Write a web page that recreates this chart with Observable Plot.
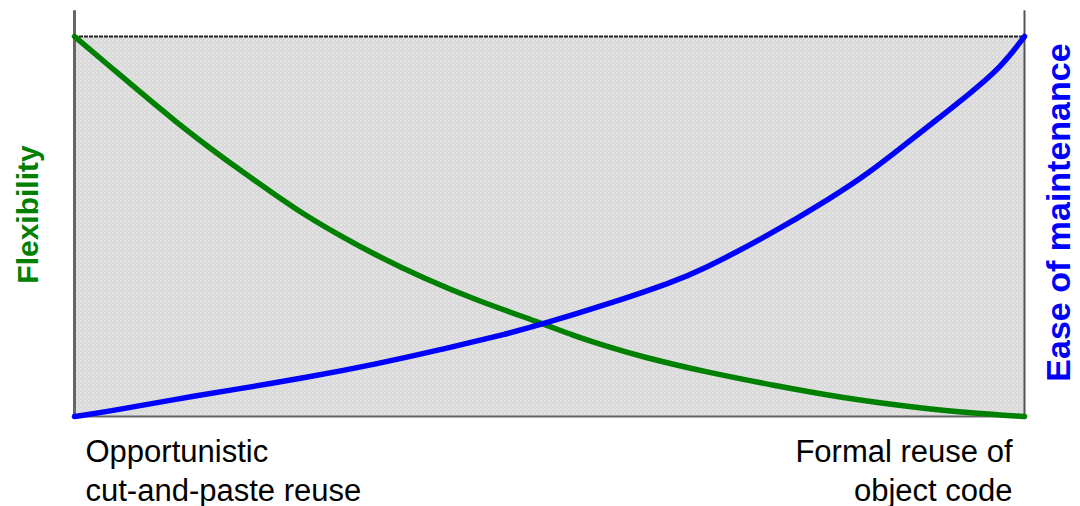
<!DOCTYPE html>
<html>
<head>
<meta charset="utf-8">
<script src="https://cdn.jsdelivr.net/npm/d3@7"></script>
<script src="https://cdn.jsdelivr.net/npm/@observablehq/plot@0.6"></script>
<style>
  html, body { margin: 0; padding: 0; background: #ffffff; }
</style>
</head>
<body>
<div id="chart"></div>
<script>
// Position along the reuse spectrum (0 = opportunistic, 100 = formal), relative level (0..100)
const flexX = [0, 3.5, 7.1, 10.5, 14.0, 17.6, 21.1, 24.5, 28.1, 31.6, 36.8, 42.1, 49.2, 52.5, 56.1, 59.6, 66.6, 73.6, 80.6, 87.7, 94.6, 100];
const flexY = [100, 92.6, 85.0, 77.9, 71.1, 64.5, 58.4, 52.6, 47.4, 42.6, 36.3, 30.8, 24.5, 21.3, 18.4, 15.8, 11.6, 8.2, 5.0, 2.6, 0.8, 0];
const easeX = [0, 3.5, 10.5, 17.6, 24.5, 31.6, 38.6, 45.6, 49.1, 56.1, 63.1, 65.9, 72.9, 79.9, 83.5, 86.9, 90.4, 94.0, 97.5, 100];
const easeY = [0, 1.3, 4.5, 7.4, 10.3, 13.7, 17.6, 21.8, 24.2, 29.5, 35.5, 38.4, 47.4, 57.9, 63.9, 70.5, 77.4, 84.5, 91.8, 100];

const leftLabel = "Opportunistic\ncut-and-paste reuse";
const rightLabel = "Formal reuse of\nobject code";
const yLabelLeft = "Flexibility";
const yLabelRight = "Ease of maintenance";

const flex = flexX.map((x, i) => ({x, y: flexY[i]}));
const ease = easeX.map((x, i) => ({x, y: easeY[i]}));

const font = "'Liberation Sans', Arial, Helvetica, sans-serif";

const svg = Plot.plot({
  width: 1080,
  height: 506,
  marginLeft: 74,
  marginRight: 56,
  marginTop: 36,
  marginBottom: 90,
  x: {domain: [0, 100], axis: null},
  y: {domain: [0, 100], axis: null},
  style: {fontFamily: font, background: "#ffffff", overflow: "visible"},
  marks: [
    Plot.frame({fill: "url(#dots)", stroke: null}),
    Plot.ruleY([100], {stroke: "#222222", strokeWidth: 2, strokeDasharray: "4,1"}),
    Plot.ruleY([0], {stroke: "#666666", strokeWidth: 2}),
    Plot.ruleX([0], {y1: 0, y2: 106.8, stroke: "#666666", strokeWidth: 3}),
    Plot.ruleX([100], {y1: 0, y2: 106.8, stroke: "#555555", strokeWidth: 2}),
    Plot.line(flex, {x: "x", y: "y", stroke: "#008000", strokeWidth: 5.5, curve: "basis"}),
    Plot.line(ease, {x: "x", y: "y", stroke: "#0000ff", strokeWidth: 5.5, curve: "basis"}),
    Plot.text([leftLabel], {x: 0, y: 0, text: d => d, textAnchor: "start", lineAnchor: "top", dx: 11, dy: 18, fontSize: 31, lineHeight: 1.25, fill: "#000000"}),
    Plot.text([rightLabel], {x: 100, y: 0, text: d => d, textAnchor: "end", lineAnchor: "top", dx: -12, dy: 18, fontSize: 31, lineHeight: 1.25, fill: "#000000"}),
    Plot.text([yLabelLeft], {x: 0, y: 50, text: d => d, rotate: -90, dx: -46, dy: -12, fontSize: 30, fontWeight: "bold", fill: "#008000"}),
    Plot.text([yLabelRight], {x: 100, y: 50, text: d => d, rotate: -90, dx: 35, dy: -14, fontSize: 34, fontWeight: "bold", fill: "#0000ff"})
  ]
});

// dotted grey fill pattern for the plot area
const ns = "http://www.w3.org/2000/svg";
const defs = document.createElementNS(ns, "defs");
const pat = document.createElementNS(ns, "pattern");
pat.setAttribute("id", "dots");
pat.setAttribute("width", "4");
pat.setAttribute("height", "4");
pat.setAttribute("patternUnits", "userSpaceOnUse");
[["0", "0", "4", "4", "#d9d9d9"], ["0", "0", "1", "1", "#ffffff"], ["2", "2", "1", "1", "#eeeeee"]].forEach(([x, y, w, h, f]) => {
  const r = document.createElementNS(ns, "rect");
  r.setAttribute("x", x); r.setAttribute("y", y);
  r.setAttribute("width", w); r.setAttribute("height", h);
  r.setAttribute("fill", f);
  pat.appendChild(r);
});
defs.appendChild(pat);
svg.insertBefore(defs, svg.firstChild);

document.getElementById("chart").appendChild(svg);
</script>
</body>
</html>
